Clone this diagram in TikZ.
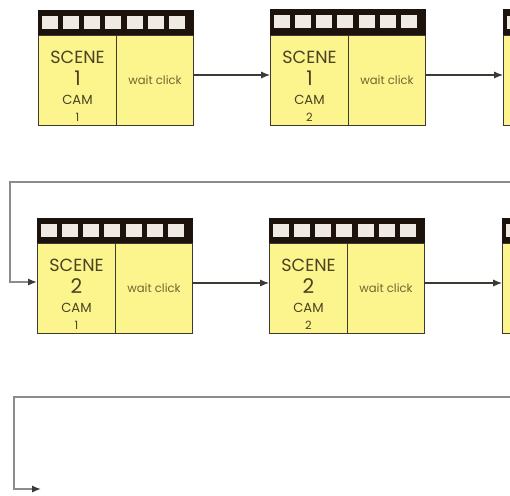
\documentclass[tikz,border=0pt]{standalone}
\usepackage{fontspec}
\setmainfont{Poppins}
\usetikzlibrary{arrows.meta,calc}
\definecolor{panelyellow}{HTML}{FCF48C}
\definecolor{stripblack}{HTML}{1C140C}
\definecolor{holewhite}{HTML}{EFEBE4}
\definecolor{inkdark}{HTML}{4A4222}
\definecolor{inklight}{HTML}{6E6630}
\definecolor{linedark}{HTML}{3C3A32}
\tikzset{
	strip/.style={draw=stripblack, fill=stripblack, anchor=north west, minimum width=3.1cm, minimum height=0.5cm, inner sep=0pt},
	hole/.style={fill=holewhite, minimum width=0.32cm, minimum height=0.26cm, inner sep=0pt},
	scenepanel/.style={draw=linedark, line width=0.6pt, fill=panelyellow, anchor=north west, minimum width=1.56cm, minimum height=1.8cm, inner sep=0pt, align=center, text=inkdark},
	waitpanel/.style={scenepanel, minimum width=1.54cm, text=inklight, font=\fontsize{6.6}{8}\selectfont},
	flow/.style={draw=linedark, line width=0.6pt, -{Latex[length=5pt,width=4pt]}},
	back/.style={draw=gray!90, line width=0.9pt, -{Latex[length=5pt,width=4pt,color=linedark]}}
}
\newcommand{\scenetext}[2]{\rule{0pt}{13.5pt}{\fontsize{10}{11}\selectfont SCENE}\\[0.4pt]{\fontsize{11.5}{13}\selectfont #1}\\[-1pt]{\fontsize{7.5}{9}\selectfont CAM}\\[-2.6pt]{\fontsize{6.5}{8}\selectfont #2}}

\begin{document}
\begin{tikzpicture}[x=0.02cm,y=-0.02cm]
	\useasboundingbox (0,0) rectangle (510,495);
	\clip (0,0) rectangle (510,495);
	% first row
	\node[strip] (strip1) at (38,10) {};
	\node[scenepanel] (scene1) at (38,35) {\scenetext{1}{1}};
	\node[waitpanel] (wait1) at (116,35) {wait click};
	\node[strip] (strip2) at (270,9) {};
	\node[scenepanel] (scene2) at (270,35) {\scenetext{1}{2}};
	\node[waitpanel] (wait2) at (348,35) {wait click};
	\node[strip] (strip3) at (503,9) {};
	\node[scenepanel] (scene3) at (503,35) {};
	% second row
	\node[strip] (strip4) at (37,218) {};
	\node[scenepanel] (scene4) at (37,243) {\scenetext{2}{1}};
	\node[waitpanel] (wait4) at (115,243) {wait click};
	\node[strip] (strip5) at (269,218) {};
	\node[scenepanel] (scene5) at (269,243) {\scenetext{2}{2}};
	\node[waitpanel] (wait5) at (347,243) {wait click};
	\node[strip] (strip6) at (502,218) {};
	\node[scenepanel] (scene6) at (502,243) {};
	% film holes
	\foreach \s/\cx/\cy in {1/38/10,2/270/9,4/37/218,5/269/218}
		\foreach \n/\hx in {a/12,b/33,c/54,d/75,e/97,f/118,g/139}
			\node[hole] (hole\s\n) at ({\cx+\hx},{\cy+12}) {};
	\node[hole] (hole3a) at (515,22) {};
	\node[hole] (hole6a) at (514,230) {};
	% return lines
	\coordinate (exit1) at (511,182);
	\coordinate (exit2) at (511,397);
	\coordinate (end2) at (41,489);
	\draw[flow] (wait1.east |- 0,75) -- (scene2.west |- 0,75);
	\draw[flow] (wait2.east |- 0,75) -- (scene3.west |- 0,75);
	\draw[flow] (wait4.east |- 0,283) -- (scene5.west |- 0,283);
	\draw[flow] (wait5.east |- 0,283) -- (scene6.west |- 0,283);
	\draw[back] (exit1) -- (10,182) -- (10,282) -- (scene4.west |- 0,282);
	\draw[back] (exit2) -- (14,397) -- (14,489) -- (end2);
\end{tikzpicture}
\end{document}
